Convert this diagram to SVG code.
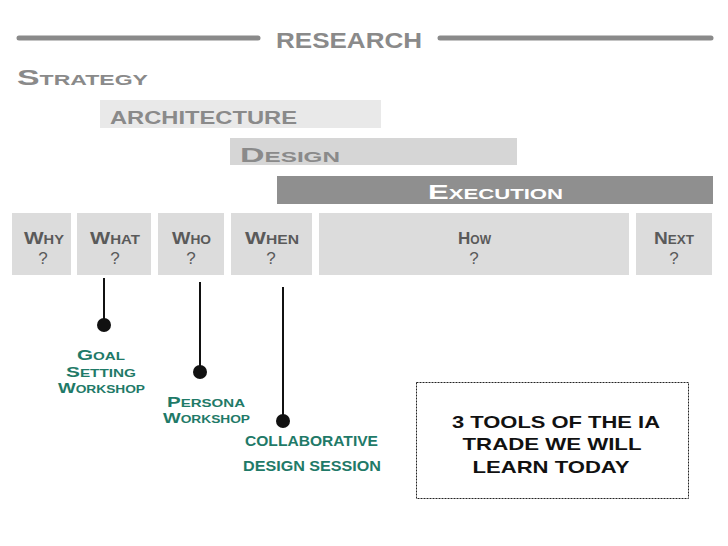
<svg xmlns="http://www.w3.org/2000/svg" width="728" height="546" viewBox="0 0 728 546">
<style>
text{font-family:"Liberation Sans",Arial,sans-serif;font-weight:bold;font-variant:small-caps}
.g{fill:#8a8a8a}
.col{fill:#dcdcdc}
.cl{fill:#5a5a5a;font-size:17px}
.q{fill:#5a5a5a;font-size:17px;text-anchor:middle;font-weight:normal;font-variant:normal}
.gr{fill:#1f7a68;font-size:15px}
.bk{fill:#111;font-size:17px;text-anchor:middle}
.conn line{stroke:#111;stroke-width:2}
.conn circle{fill:#111}
</style>
<rect width="728" height="546" fill="#fff"/>
<g id="research">
<line x1="19" y1="38" x2="258" y2="38" stroke="#8a8a8a" stroke-width="5" stroke-linecap="round"/>
<line x1="440" y1="38" x2="711" y2="38" stroke="#8a8a8a" stroke-width="5" stroke-linecap="round"/>
<text class="g" x="276" y="48" font-size="22" textLength="146" lengthAdjust="spacingAndGlyphs">RESEARCH</text>
</g>
<g id="strategy"><text class="g" x="17" y="85" font-size="22" textLength="131" lengthAdjust="spacingAndGlyphs">Strategy</text></g>
<g id="architecture">
<rect x="100" y="100" width="281" height="28" fill="#e9e9e9"/>
<text class="g" x="110" y="124" font-size="19" textLength="187" lengthAdjust="spacingAndGlyphs">ARCHITECTURE</text>
</g>
<g id="design">
<rect x="230" y="138" width="287" height="27" fill="#d6d6d6"/>
<text class="g" x="240" y="162" font-size="21" textLength="100" lengthAdjust="spacingAndGlyphs">Design</text>
</g>
<g id="execution">
<rect x="277" y="176" width="436" height="28" fill="#8f8f8f"/>
<text x="428" y="199" font-size="21" fill="#fff" textLength="135" lengthAdjust="spacingAndGlyphs">Execution</text>
</g>
<g id="why"><rect class="col" x="12" y="213" width="59" height="62"/><text class="cl" x="24" y="244" textLength="40" lengthAdjust="spacingAndGlyphs">Why</text><text class="q" x="43" y="264">?</text></g>
<g id="what"><rect class="col" x="77" y="213" width="74" height="62"/><text class="cl" x="90" y="244" textLength="50" lengthAdjust="spacingAndGlyphs">What</text><text class="q" x="115" y="264">?</text></g>
<g id="who"><rect class="col" x="158" y="213" width="66" height="62"/><text class="cl" x="172" y="244" textLength="39" lengthAdjust="spacingAndGlyphs">Who</text><text class="q" x="191" y="264">?</text></g>
<g id="when"><rect class="col" x="231" y="213" width="81" height="62"/><text class="cl" x="245" y="244" textLength="54" lengthAdjust="spacingAndGlyphs">When</text><text class="q" x="271" y="264">?</text></g>
<g id="how"><rect class="col" x="319" y="213" width="310" height="62"/><text class="cl" x="458" y="244" textLength="33" lengthAdjust="spacingAndGlyphs">How</text><text class="q" x="474" y="264">?</text></g>
<g id="next"><rect class="col" x="636" y="213" width="76" height="62"/><text class="cl" x="654" y="244" textLength="40" lengthAdjust="spacingAndGlyphs">Next</text><text class="q" x="674" y="264">?</text></g>
<g class="conn" id="connectors">
<line x1="104" y1="278" x2="104" y2="324"/><circle cx="104" cy="325" r="7"/>
<line x1="200" y1="282" x2="200" y2="371"/><circle cx="200" cy="372" r="7"/>
<line x1="283" y1="287" x2="283" y2="420"/><circle cx="283" cy="421" r="7"/>
</g>
<g id="goal">
<text class="gr" x="77" y="360" textLength="48" lengthAdjust="spacingAndGlyphs">Goal</text>
<text class="gr" x="66" y="377" textLength="70" lengthAdjust="spacingAndGlyphs">Setting</text>
<text class="gr" x="58" y="393" textLength="87" lengthAdjust="spacingAndGlyphs">Workshop</text>
</g>
<g id="persona">
<text class="gr" x="167" y="407" textLength="78" lengthAdjust="spacingAndGlyphs">Persona</text>
<text class="gr" x="163" y="423" textLength="87" lengthAdjust="spacingAndGlyphs">Workshop</text>
</g>
<g id="collab">
<text class="gr" x="245" y="446" textLength="133" lengthAdjust="spacingAndGlyphs">COLLABORATIVE</text>
<text class="gr" x="243" y="471" textLength="138" lengthAdjust="spacingAndGlyphs">DESIGN SESSION</text>
</g>
<g id="note">
<rect x="416.5" y="382.5" width="272" height="116" fill="none" stroke="#222" stroke-width="1" stroke-dasharray="2 1"/>
<text class="bk" x="556" y="428" textLength="208" lengthAdjust="spacingAndGlyphs">3 TOOLS OF THE IA</text>
<text class="bk" x="552" y="450" textLength="179" lengthAdjust="spacingAndGlyphs">TRADE WE WILL</text>
<text class="bk" x="551" y="473" textLength="157" lengthAdjust="spacingAndGlyphs">LEARN TODAY</text>
</g>
</svg>
